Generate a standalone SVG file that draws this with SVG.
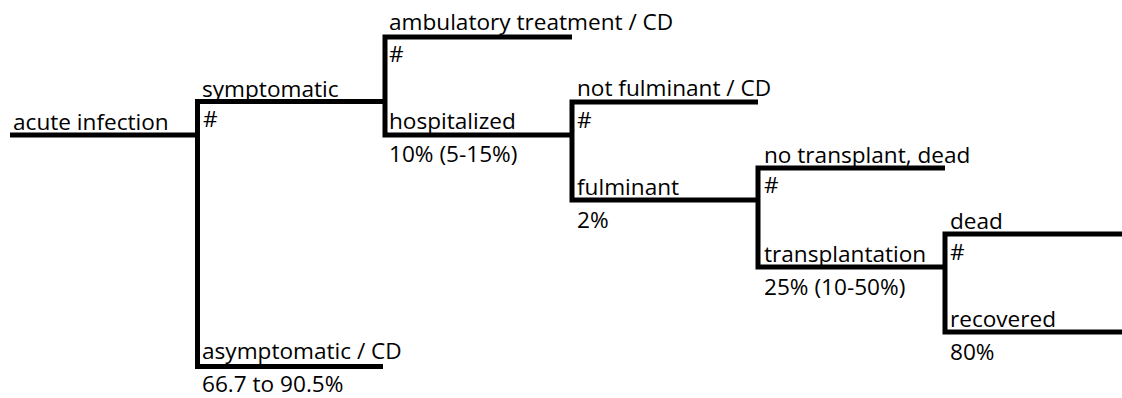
<svg xmlns="http://www.w3.org/2000/svg" width="1122" height="398" viewBox="0 0 1122 398">
<style>
text{font-family:"Open Sans","Noto Sans","DejaVu Sans",sans-serif;font-size:22.6px;fill:#000}
.ln{fill:none;stroke:#000;stroke-width:5;stroke-linejoin:miter;stroke-linecap:butt}
</style>
<rect width="1122" height="398" fill="#fff"/>
<g id="connectors">
<path class="ln" d="M10 135 H197.5"/>
<path class="ln" d="M385 101.5 H197.5 V366.5 H383"/>
<path class="ln" d="M572 37 H385 V135 H572"/>
<path class="ln" d="M758 102 H572 V200 H758"/>
<path class="ln" d="M945 168 H758 V267 H945"/>
<path class="ln" d="M1122 234 H945 V332 H1122"/>
</g>
<g id="node-acute"><text x="13" y="130">acute infection</text></g>
<g id="node-symptomatic"><text x="202" y="97">symptomatic</text><text x="203" y="127">#</text></g>
<g id="node-asymptomatic"><text x="202" y="359">asymptomatic / CD</text><text x="202" y="392">66.7 to 90.5%</text></g>
<g id="node-ambulatory"><text x="389" y="30">ambulatory treatment / CD</text><text x="389" y="62">#</text></g>
<g id="node-hospitalized"><text x="389" y="129">hospitalized</text><text x="389" y="162">10% (5-15%)</text></g>
<g id="node-notfulminant"><text x="577" y="96">not fulminant / CD</text><text x="577" y="128">#</text></g>
<g id="node-fulminant"><text x="577" y="195">fulminant</text><text x="577" y="228">2%</text></g>
<g id="node-notransplant"><text x="764" y="163">no transplant, dead</text><text x="764" y="193">#</text></g>
<g id="node-transplantation"><text x="764" y="262">transplantation</text><text x="764" y="295">25% (10-50%)</text></g>
<g id="node-dead"><text x="950" y="229">dead</text><text x="950" y="260">#</text></g>
<g id="node-recovered"><text x="950" y="327">recovered</text><text x="950" y="360">80%</text></g>
</svg>
